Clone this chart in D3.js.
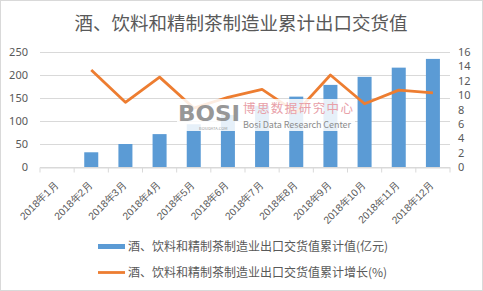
<!DOCTYPE html>
<html lang="zh">
<head>
<meta charset="UTF-8">
<title>酒、饮料和精制茶制造业累计出口交货值</title>
<script src="https://d3js.org/d3.v7.min.js"></script>
<style>
  body { margin: 0; background: #fff; }
  svg { display: block; font-family: "Noto Sans CJK SC", "Noto Sans", sans-serif; }
</style>
</head>
<body>
<div id="chart"></div>
<script>
    // data
    const months = ["2018年1月", "2018年2月", "2018年3月", "2018年4月", "2018年5月", "2018年6月",
        "2018年7月", "2018年8月", "2018年9月", "2018年10月", "2018年11月", "2018年12月"];
    const values = [null, 32, 50, 71.5, 93, 113, 133, 153, 178.5, 196, 216, 235];
    const growth = [null, 13.5, 9.0, 12.5, 8.2, 9.7, 10.8, 7.6, 12.8, 8.8, 10.7, 10.3];
    const leftTicks = [0, 50, 100, 150, 200, 250];
    const rightTicks = [0, 2, 4, 6, 8, 10, 12, 14, 16];
    const title = "酒、饮料和精制茶制造业累计出口交货值";
    const seriesNames = ["酒、饮料和精制茶制造业出口交货值累计值(亿元)", "酒、饮料和精制茶制造业出口交货值累计增长(%)"];

    const width = 483, height = 291;
    const margin = { top: 52, right: 33, bottom: 124, left: 40 };
    const blue = "#5b9bd5", orange = "#ed7d31", textColor = "#595959";

    const svg = d3.select("#chart").append("svg")
        .attr("width", width)
        .attr("height", height);

    // outer border
    svg.append("rect")
        .attr("x", 0.5).attr("y", 0.5)
        .attr("width", width - 1).attr("height", height - 1)
        .attr("fill", "#fff").attr("stroke", "#d9d9d9");

    const x = d3.scaleBand()
        .domain(months)
        .range([margin.left, width - margin.right])
        .paddingInner(0.59)
        .paddingOuter(0.295);

    const yL = d3.scaleLinear().domain([0, 250]).range([height - margin.bottom, margin.top]);
    const yR = d3.scaleLinear().domain([0, 16]).range([height - margin.bottom, margin.top]);

    // title
    svg.append("text")
        .attr("x", 241).attr("y", 30)
        .attr("text-anchor", "middle")
        .attr("font-size", 18.5)
        .attr("fill", textColor)
        .text(title);

    // gridlines
    svg.append("g")
        .selectAll("line")
        .data(leftTicks)
        .join("line")
        .attr("x1", margin.left).attr("x2", width - margin.right)
        .attr("y1", d => Math.round(yL(d)) + 0.5).attr("y2", d => Math.round(yL(d)) + 0.5)
        .attr("stroke", "#d9d9d9");

    // left axis
    const axL = svg.append("g")
        .attr("transform", `translate(${margin.left},0)`)
        .call(d3.axisLeft(yL).tickValues(leftTicks).tickSize(0).tickPadding(12));
    axL.select(".domain").remove();
    axL.selectAll("text").attr("font-size", 11).attr("fill", textColor).attr("font-family", "Noto Sans, sans-serif");

    // right axis
    const axR = svg.append("g")
        .attr("transform", `translate(${width - margin.right},0)`)
        .call(d3.axisRight(yR).tickValues(rightTicks).tickSize(0).tickPadding(8));
    axR.select(".domain").remove();
    axR.selectAll("text").attr("font-size", 11).attr("fill", textColor).attr("font-family", "Noto Sans, sans-serif");

    // bars
    svg.append("g")
        .selectAll("rect")
        .data(months.map((m, i) => ({ m, v: values[i] })).filter(d => d.v != null))
        .join("rect")
        .attr("x", d => x(d.m))
        .attr("width", x.bandwidth())
        .attr("y", d => yL(d.v))
        .attr("height", d => yL(0) - yL(d.v))
        .attr("fill", blue);

    // x axis
    const step = x.step();
    const axB = svg.append("g")
        .attr("transform", `translate(0,${Math.round(yL(0)) + 0.5})`)
        .call(d3.axisBottom(x).tickSize(5).tickSizeOuter(0));
    axB.select(".domain").attr("stroke", "#d9d9d9");
    axB.selectAll(".tick line")
        .attr("stroke", "#d9d9d9")
        .attr("transform", `translate(${-step / 2},0)`);
    axB.append("line")
        .attr("x1", width - margin.right).attr("x2", width - margin.right)
        .attr("y1", 0).attr("y2", 5).attr("stroke", "#d9d9d9");
    axB.selectAll(".tick text")
        .attr("font-size", 10.3)
        .attr("fill", textColor)
        .attr("text-anchor", "end")
        .attr("x", 0).attr("y", 0)
        .attr("dy", "0.35em")
        .attr("transform", "translate(-1,16) rotate(-45)");

    // line
    const line = d3.line()
        .defined(d => d.v != null)
        .x(d => x(d.m) + x.bandwidth() / 2)
        .y(d => yR(d.v));
    svg.append("path")
        .datum(months.map((m, i) => ({ m, v: growth[i] })))
        .attr("d", line)
        .attr("fill", "none")
        .attr("stroke", orange)
        .attr("stroke-width", 2.8)
        .attr("stroke-linejoin", "round");

    // watermark
    const wm = svg.append("g").attr("transform", "translate(177,99)");
    wm.append("rect").attr("x", 0).attr("y", 0).attr("width", 178).attr("height", 32)
        .attr("fill", "#fff").attr("opacity", 0.85);
    wm.append("text").attr("x", 1).attr("y", 22).attr("font-size", 22).attr("font-weight", "bold")
        .attr("font-family", "DejaVu Sans, sans-serif").attr("fill", "#8c8c8c").attr("opacity", 0.9)
        .attr("textLength", 62).attr("lengthAdjust", "spacingAndGlyphs").text("BOSI");
    wm.append("text").attr("x", 22).attr("y", 31).attr("font-size", 4)
        .attr("fill", "#999").text("BOSIDATA.COM");
    wm.append("text").attr("x", 66).attr("y", 14).attr("font-size", 12.5)
        .attr("fill", "#e8a0a8").attr("textLength", 110).text("博思数据研究中心");
    wm.append("text").attr("x", 66).attr("y", 28.5).attr("font-size", 9)
        .attr("fill", "#8c8c8c").attr("textLength", 108).text("Bosi Data Research Center");

    // legend
    const lg = svg.append("g").attr("transform", "translate(98,0)");
    lg.append("rect").attr("x", 0).attr("y", 244).attr("width", 27).attr("height", 5).attr("fill", blue);
    lg.append("text").attr("x", 30).attr("y", 251).attr("font-size", 12).attr("fill", textColor).text(seriesNames[0]);
    lg.append("line").attr("x1", 0).attr("x2", 27).attr("y1", 272.5).attr("y2", 272.5)
        .attr("stroke", orange).attr("stroke-width", 2.8);
    lg.append("text").attr("x", 30).attr("y", 277).attr("font-size", 12).attr("fill", textColor).text(seriesNames[1]);
</script>
</body>
</html>
